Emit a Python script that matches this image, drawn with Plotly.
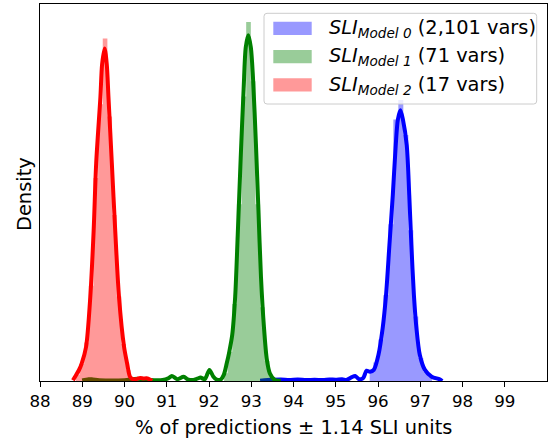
import plotly.graph_objects as go

# ---------------- data ----------------
series_names = ["Model 0", "Model 1", "Model 2"]
series_vars = ["2,101", "71", "17"]
line_colors = ["#0000ff", "#008000", "#ff0000"]
fill_colors = ["rgba(0,0,255,0.4)", "rgba(0,128,0,0.4)", "rgba(255,0,0,0.4)"]

# KDE curves (x = % of predictions, y = density)
kde0_x = [93.21, 93.5, 93.7, 93.9, 94.1, 94.3, 94.5, 94.7, 94.85, 95.0, 95.15, 95.25, 95.38,
          95.46, 95.55, 95.65, 95.73, 95.81, 95.90, 96.01, 96.11, 96.19, 96.27, 96.35, 96.42,
          96.47, 96.53, 96.59, 96.68, 96.74, 96.79, 96.85, 96.91, 96.99, 97.11, 97.27, 97.46, 97.52]
kde0_y = [0.002, 0.008, 0.010, 0.006, 0.010, 0.006, 0.008, 0.006, 0.010, 0.008, 0.012, 0.006, 0.025,
          0.033, 0.012, 0.020, 0.067, 0.060, 0.072, 0.169, 0.343, 0.559, 0.884, 1.209, 1.534,
          1.700, 1.761, 1.700, 1.534, 1.209, 0.884, 0.559, 0.343, 0.169, 0.072, 0.028, 0.011, 0.0]

kde1_x = [89.00, 89.15, 89.25, 89.40, 89.70, 90.00, 90.30, 90.45, 90.60, 90.90, 91.05, 91.12,
          91.25, 91.40, 91.50, 91.60, 91.72, 91.80, 91.90, 92.01, 92.10, 92.18, 92.27, 92.35,
          92.42, 92.48, 92.55, 92.62, 92.68, 92.75, 92.82, 92.87, 92.93, 92.99, 93.04, 93.11,
          93.17, 93.23, 93.30, 93.37, 93.44, 93.56, 93.70]
kde1_y = [0.003, 0.012, 0.010, 0.005, 0.004, 0.005, 0.015, 0.010, 0.006, 0.006, 0.020, 0.033,
          0.012, 0.028, 0.010, 0.006, 0.015, 0.022, 0.012, 0.072, 0.030, 0.010, 0.008, 0.040,
          0.115, 0.190, 0.300, 0.550, 0.950, 1.450, 1.900, 2.170, 2.249, 2.170, 1.978, 1.545,
          1.112, 0.678, 0.353, 0.137, 0.050, 0.006, 0.002]

kde2_x = [88.78, 88.83, 88.92, 88.99, 89.09, 89.19, 89.27, 89.33, 89.43, 89.47, 89.53, 89.58,
          89.62, 89.70, 89.78, 89.87, 89.99, 90.06, 90.13, 90.20, 90.30, 90.37, 90.45, 90.52,
          90.61, 90.65]
kde2_y = [0.005, 0.028, 0.070, 0.117, 0.221, 0.546, 0.980, 1.417, 1.848, 2.060, 2.163, 2.060,
          1.848, 1.417, 0.980, 0.546, 0.221, 0.117, 0.028, 0.012, 0.014, 0.020, 0.016, 0.018,
          0.008, 0.0]

# Histogram bins (centre, density); end points are zero-height bin edges
hist0_x = [95.773, 95.832, 95.950, 96.068, 96.186, 96.304, 96.422, 96.540, 96.658, 96.776, 96.894,
           97.012, 97.130, 97.248, 97.307]
hist0_y = [0.0, 0.06, 0.12, 0.27, 0.56, 1.02, 1.70, 1.827, 1.60, 0.98, 0.42, 0.15, 0.06, 0.03, 0.0]

hist1_x = [92.330, 92.385, 92.495, 92.605, 92.715, 92.825, 92.935, 93.045, 93.155, 93.265, 93.375,
           93.485, 93.540]
hist1_y = [0.0, 0.05, 0.19, 0.50, 1.15, 1.85, 2.335, 1.95, 1.15, 0.48, 0.13, 0.03, 0.0]

hist2_x = [88.825, 88.88, 88.99, 89.10, 89.21, 89.32, 89.43, 89.54, 89.65, 89.76, 89.87, 89.98,
           90.09, 90.20, 90.255]
hist2_y = [0.0, 0.04, 0.11, 0.25, 0.62, 1.32, 1.80, 2.228, 1.72, 1.08, 0.55, 0.24, 0.07, 0.02, 0.0]

x_ticks = list(range(88, 100))
x_title = "% of predictions ± 1.14 SLI units"
y_title = "Density"

kde_x = [kde0_x, kde1_x, kde2_x]
kde_y = [kde0_y, kde1_y, kde2_y]
hist_x = [hist0_x, hist1_x, hist2_x]
hist_y = [hist0_y, hist1_y, hist2_y]

# ---------------- figure ----------------
FONT = "DejaVu Sans"
fig = go.Figure()
for i in range(3):
    # histogram drawn as a stepped filled area (no seams between bins)
    fig.add_trace(go.Scatter(x=hist_x[i], y=hist_y[i], mode="lines",
                             line=dict(width=0, shape="hvh", color=fill_colors[i]),
                             fill="tozeroy", fillcolor=fill_colors[i],
                             showlegend=False, hoverinfo="skip"))
    fig.add_trace(go.Scatter(x=kde_x[i], y=kde_y[i], mode="lines",
                             line=dict(color=line_colors[i], width=4, shape="spline", smoothing=0.8),
                             showlegend=False, hoverinfo="skip"))

ymax = max(max(v) for v in hist_y + kde_y) * 1.05

W, H = 551, 438
ML, MR, MT, MB = 40, 4, 4, 57
pw, ph = W - ML - MR, H - MT - MB


def px2paper(px, py):
    return (px - ML) / pw, (H - MB - py) / ph


def rounded_rect(x0, y0, x1, y1, r=3):
    rx, ry = r / pw, r / ph
    return (f"M {x0+rx},{y0} L {x1-rx},{y0} Q {x1},{y0} {x1},{y0+ry} "
            f"L {x1},{y1-ry} Q {x1},{y1} {x1-rx},{y1} L {x0+rx},{y1} "
            f"Q {x0},{y1} {x0},{y1-ry} L {x0},{y0+ry} Q {x0},{y0} {x0+rx},{y0} Z")


shapes = []
annotations = []
# legend frame
lx0, ly0 = px2paper(264, 104)
lx1, ly1 = px2paper(536.7, 13.3)
shapes.append(dict(type="path", xref="paper", yref="paper",
                   path=rounded_rect(lx0, ly0, lx1, ly1),
                   fillcolor="rgba(255,255,255,0.8)", line=dict(color="#cccccc", width=1)))
row_tops = [21.7, 50.0, 78.3]
for i in range(3):
    px0, py0 = px2paper(273.3, row_tops[i] + 13.3)
    px1, py1 = px2paper(311.7, row_tops[i])
    shapes.append(dict(type="rect", xref="paper", yref="paper", x0=px0, x1=px1, y0=py0, y1=py1,
                       fillcolor=fill_colors[i], line=dict(width=0)))
    tx, ty = px2paper(326.7, row_tops[i] + 6.7)
    annotations.append(dict(xref="paper", yref="paper", x=tx, y=ty, xanchor="left", yanchor="middle",
                            showarrow=False,
                            text=f"<i>SLI</i><sub><i>{series_names[i]}</i></sub> ({series_vars[i]} vars)",
                            font=dict(family=FONT, size=19.4, color="black")))

# y axis title
yx, yy = px2paper(24, 194)
annotations.append(dict(xref="paper", yref="paper", x=yx, y=yy, xanchor="center", yanchor="middle",
                        showarrow=False, text=y_title, textangle=-90,
                        font=dict(family=FONT, size=19.4, color="black")))
# x axis title
xx, xy = px2paper(293, 427)
annotations.append(dict(xref="paper", yref="paper", x=xx, y=xy, xanchor="center", yanchor="middle",
                        showarrow=False, text=x_title,
                        font=dict(family=FONT, size=19.4, color="black")))

fig.update_layout(
    width=W, height=H,
    margin=dict(l=ML, r=MR, t=MT, b=MB, pad=0),
    paper_bgcolor="white", plot_bgcolor="white",
    font=dict(family=FONT, color="black"),
    shapes=shapes, annotations=annotations,
    xaxis=dict(range=[88, 100], tickvals=x_ticks, ticktext=[str(t) for t in x_ticks],
               ticks="outside", ticklen=5, tickwidth=1.1, tickcolor="black",
               tickfont=dict(family=FONT, size=16.7, color="black"),
               showline=True, mirror=True, linecolor="black", linewidth=1.1,
               showgrid=False, zeroline=False),
    yaxis=dict(range=[0, ymax], showticklabels=False, ticks="",
               showline=True, mirror=True, linecolor="black", linewidth=1.1,
               showgrid=False, zeroline=False),
)

fig.write_html("out.html", config={"displayModeBar": False},
               post_script="document.body.style.margin='0';document.body.style.overflow='hidden';")
